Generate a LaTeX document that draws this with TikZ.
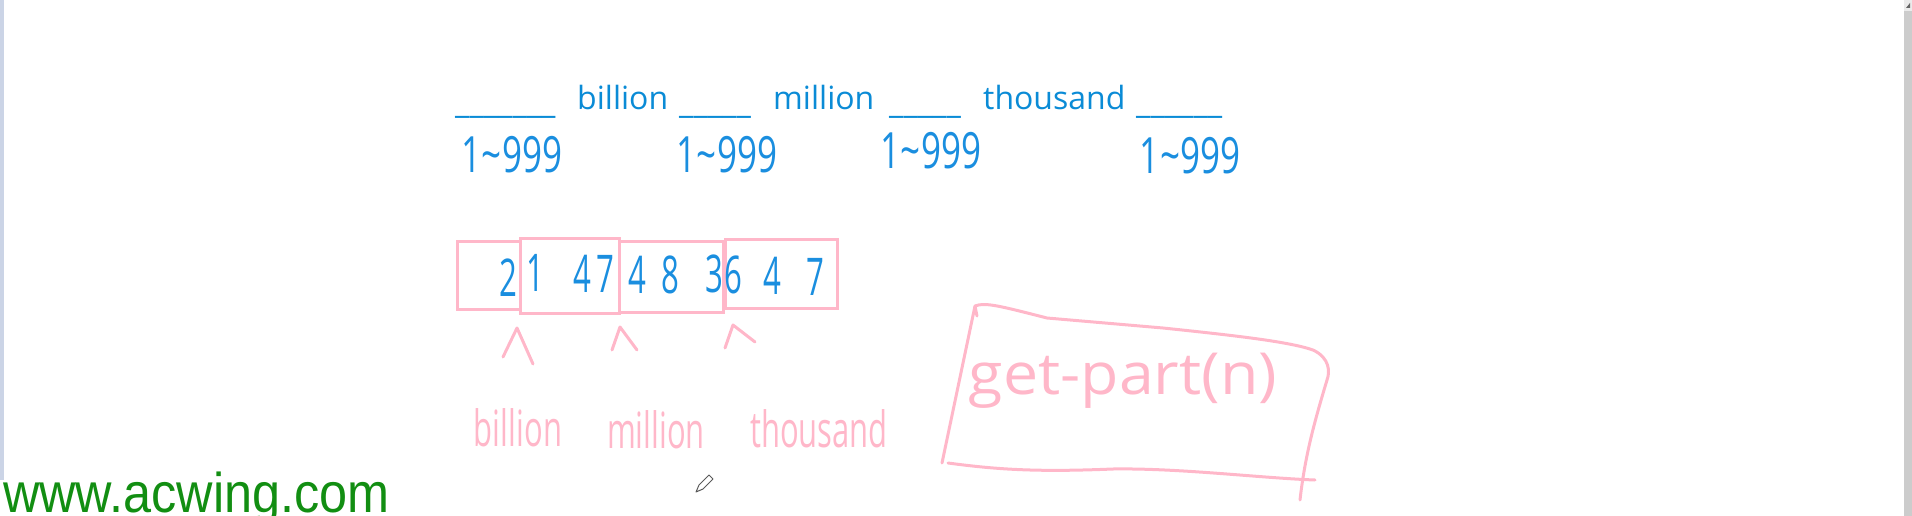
\documentclass[tikz,border=0pt]{standalone}
\usepackage{fontspec}
\usetikzlibrary{positioning}
\newfontfamily\typedfont{Open Sans}
\newfontfamily\webfont{Liberation Sans}
\definecolor{typeblue}{HTML}{0A8BD6}
\definecolor{penblue}{HTML}{1A8EDF}
\definecolor{penpink}{HTML}{FFB7C9}
\definecolor{webgreen}{HTML}{128E12}
\definecolor{edgegray}{HTML}{CBD4E6}
\definecolor{bargray}{HTML}{CCCCCC}
\tikzset{
  typed/.style={font=\typedfont\fontsize{32}{36}\selectfont,text=typeblue,anchor=base west,inner sep=0pt},
  rangetext/.style={font=\typedfont\fontsize{50}{54}\selectfont,text=penblue,anchor=base,inner sep=0pt,xscale=0.7},
  digit/.style={font=\typedfont\fontsize{52}{56}\selectfont,text=penblue,anchor=base,inner sep=0pt,xscale=0.6},
  pinkword/.style={font=\typedfont\fontsize{50}{54}\selectfont,text=penpink,anchor=base,inner sep=0pt,xscale=0.62},
  cell/.style={draw=penpink,line width=3pt},
  caret/.style={draw=penpink,line width=3pt,line cap=round,line join=round},
  pen/.style={draw=penpink,line width=3pt,line cap=round,line join=round}
}
\begin{document}
\begin{tikzpicture}[x=1pt,y=-1pt]
\useasboundingbox (0,0) rectangle (1912,516);
% window edges
\fill[edgegray] (0,0) rectangle (4,480);
\fill[bargray!40] (1904,0) rectangle (1912,11);
\fill[bargray] (1904,11) rectangle (1912,516);
\fill[black!60] (1906,8) -- (1910,3) -- (1910,8) -- cycle;
% typed line
\node[typed] (b1) at (455,114) {\_\_\_\_\_\_\_};
\node[typed] (wb) at (577,110) {billion};
\node[typed] (b2) at (679,114) {\_\_\_\_\_};
\node[typed] (wm) at (773,110) {million};
\node[typed] (b3) at (889,114) {\_\_\_\_\_};
\node[typed] (wt) at (983,110) {thousand};
\node[typed] (b4) at (1136,114) {\_\_\_\_\_\_};
% ranges
\node[rangetext] (r1) at (512,172) {1\textasciitilde999};
\node[rangetext] (r2) at (727,172) {1\textasciitilde999};
\node[rangetext] (r3) at (931,168) {1\textasciitilde999};
\node[rangetext] (r4) at (1190,173) {1\textasciitilde999};
% number split in groups
\draw[cell] (457,241) rectangle (520,309);
\draw[cell] (520,238) rectangle (619,313);
\draw[cell] (619,241) rectangle (723,312);
\draw[cell] (725,239) rectangle (837,308);
\node[digit] (d1) at (508,296) {2};
\node[digit] (d2) at (535,291) {1}; \node[digit] (d3) at (582,292) {4}; \node[digit] (d4) at (605,292) {7};
\node[digit] (d5) at (637,293) {4}; \node[digit] (d6) at (670,293) {8}; \node[digit] (d7) at (714,292) {3};
\node[digit] (d8) at (733,293) {6}; \node[digit] (d9) at (772,294) {4}; \node[digit] (d10) at (815,295) {7};
% carets
\draw[caret] (503,357) -- (517,328) -- (533,364);
\draw[caret] (612,350) -- (620,327) -- (637,350);
\draw[caret] (725,348) -- (733,325) -- (755,342);
\node[pinkword] (lb) at (518,446) {billion};
\node[pinkword] (lm) at (656,448) {million};
\node[pinkword] (lt) at (819,447) {thousand};
% get part box
\draw[pen] (977,316) -- (975,306) .. controls (985,302) and (1000,306) .. (1047,318) -- (1163,328) .. controls (1240,336) and (1290,342) .. (1313,350) .. controls (1330,358) and (1330,372) .. (1327,380) .. controls (1315,420) and (1305,455) .. (1300,500);
\draw[pen] (975,306) -- (942,463);
\draw[pen] (948,463) .. controls (1000,470) and (1040,472) .. (1113,469) .. controls (1180,468) and (1260,478) .. (1315,480);
\node[font=\typedfont\fontsize{58}{62}\selectfont,text=penpink,anchor=base,inner sep=0pt,xscale=1.08] (gp) at (1123,394) {get-part(n)};
% cursor
\draw[black!65,line width=1pt,line join=round] (696,492) -- (699,485) -- (709,475) -- (713,479) -- (703,489) -- cycle;
% watermark
\node[font=\webfont\fontsize{56}{60}\selectfont,text=webgreen,anchor=base west,inner sep=0pt,xscale=0.9] (web) at (3,512) {www.acwing.com};
\end{tikzpicture}
\end{document}
